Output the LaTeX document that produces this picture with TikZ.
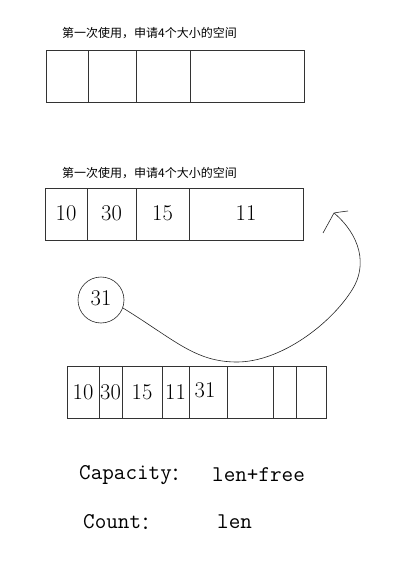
\documentclass[tikz,border=0pt]{standalone}
\usepackage{fontspec}
\newfontfamily\cjk{Noto Sans CJK SC}
\begin{document}
\begin{tikzpicture}[x=1pt,y=-1pt,
  cell/.style={draw=black!80,line width=0.8pt,inner sep=0pt,minimum height=52pt,font=\fontsize{22.5}{22.5}\selectfont},
  title/.style={font=\cjk\fontsize{12}{12}\selectfont,anchor=west,inner sep=0pt},
  info/.style={font=\ttfamily\fontsize{22.5}{22.5}\selectfont,anchor=west,inner sep=0pt}]
\useasboundingbox[fill=white] (0,0) rectangle (418,577);
% first box
\node[title] (t1) at (62,33) {第一次使用，申请4个大小的空间};
\node[cell,minimum width=42pt] (a1) at (67,76) {};
\node[cell,minimum width=48pt] (a2) at (112,76) {};
\node[cell,minimum width=54pt] (a3) at (163,76) {};
\node[cell,minimum width=114pt] (a4) at (247,76) {};
% second box
\node[title] (t2) at (62,173) {第一次使用，申请4个大小的空间};
\node[cell,minimum width=42pt] (b1) at (66,214.5) {\raisebox{2pt}{10}};
\node[cell,minimum width=49pt] (b2) at (111.5,214.5) {\raisebox{2pt}{30}};
\node[cell,minimum width=53pt] (b3) at (162.5,214.5) {\raisebox{2pt}{15}};
\node[cell,minimum width=114pt] (b4) at (246,214.5) {\raisebox{2pt}{11}};
% circle
\node[draw=black!85,line width=0.6pt,circle,minimum size=46pt,inner sep=0pt,font=\fontsize{22.5}{22.5}\selectfont] (c31) at (101,300) {\raisebox{3pt}{31}};
% third box
\node[cell,minimum width=32pt] (d1) at (83,392) {10};
\node[cell,minimum width=23pt] (d2) at (110.5,392) {30};
\node[cell,minimum width=40pt] (d3) at (142,392) {15};
\node[cell,minimum width=27pt] (d4) at (175.5,392) {\raisebox{-1.5pt}{11}};
\node[cell,minimum width=38pt] (d5) at (208,392) {\hspace*{-6pt}\raisebox{4pt}{31}};
\node[cell,minimum width=46pt] (d6) at (250,392) {};
\node[cell,minimum width=23pt] (d7) at (284.5,392) {};
\node[cell,minimum width=30pt] (d8) at (311,392) {};
% curve arrow
\coordinate (tip) at (334,213);
\coordinate (barbA) at (323,233);
\coordinate (barbB) at (348,211);
\draw[black!85,line width=0.6pt] (c31.-20) .. controls (175,340) and (195,362) .. (237,362)
  .. controls (280,362) and (330,325) .. (352,290)
  .. controls (368,265) and (360,235) .. (tip);
\draw[black!85,line width=0.6pt] (barbA) -- (tip) .. controls (340,212) .. (barbB);
% info texts
\node[info] (cap) at (79,475) {Capacity\raisebox{-1pt}{\cjk\fontsize{18}{18}\selectfont ：}};
\node[info] (capv) at (212,475) {len+free};
\node[info] (cnt) at (83,522) {Count\raisebox{-1pt}{\cjk\fontsize{18}{18}\selectfont ：}};
\node[info] (cntv) at (217,522) {len};
\end{tikzpicture}
\end{document}
